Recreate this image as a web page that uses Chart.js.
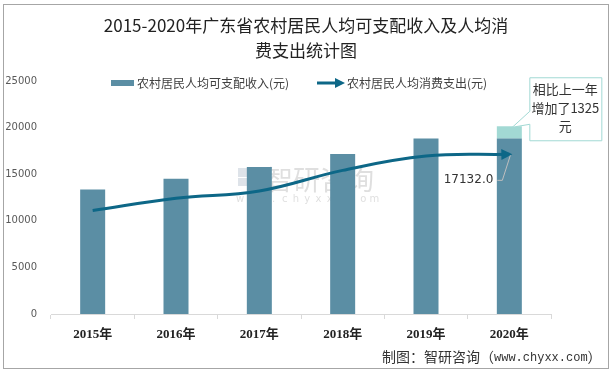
<!DOCTYPE html>
<html>
<head>
<meta charset="utf-8">
<script src="https://cdn.jsdelivr.net/npm/chart.js@4/dist/chart.umd.min.js"></script>
<style>
  html,body{margin:0;padding:0;background:#fff;}
  #wrap{width:613px;height:373px;position:relative;}
</style>
</head>
<body>
<div id="wrap"><canvas id="c" width="613" height="373"></canvas></div>
<script>
const titleLines = ['2015-2020年广东省农村居民人均可支配收入及人均消', '费支出统计图'];
const years = ['2015年', '2016年', '2017年', '2018年', '2019年', '2020年'];
const income = [13360, 14512, 15780, 17168, 18818, 20143];
const incomeIncrease = [null, null, null, null, null, 1325];
const spending = [11103, 12415, 13200, 15411, 16949, 17132];
const yTicks = [0, 5000, 10000, 15000, 20000, 25000];
const incomeLabel = '农村居民人均可支配收入(元)';
const spendingLabel = '农村居民人均消费支出(元)';
const calloutLines = ['相比上一年', '增加了1325', '元'];
const sourceText = ['制图：智研咨询（', 'www.chyxx.com', '）'];

const BAR = '#5b8ea4', BAR_UP = '#a2d9d4', LINE = '#0d6787';
const CJK = '"Noto Sans CJK SC", "Noto Sans", sans-serif';

// the 2020 bar is split: previous-year level + the increase on top
const incomeBase = income.map((v, i) => incomeIncrease[i] ? v - incomeIncrease[i] : v);

function arrowHead(ctx, x, y, ang, len, half){
  ctx.save();
  ctx.translate(x, y); ctx.rotate(ang);
  ctx.beginPath();
  ctx.moveTo(0, 0); ctx.lineTo(-len, -half); ctx.lineTo(-len, half);
  ctx.closePath(); ctx.fill();
  ctx.restore();
}

function watermark(ctx){
  ctx.save();
  ctx.globalAlpha = 0.28;
  ctx.fillStyle = '#8a9cb0';
  ctx.fillRect(238, 168, 14, 9);
  ctx.fillRect(238, 178, 9, 8);
  ctx.fillStyle = '#5aa0d8';
  ctx.fillRect(249, 178, 10, 8);
  ctx.fillStyle = '#8c8c8c';
  ctx.font = '27px ' + CJK;
  ctx.textAlign = 'left'; ctx.textBaseline = 'middle';
  ctx.fillText('智研咨询', 266, 180);
  ctx.font = '10px "DejaVu Sans", sans-serif';
  ctx.textAlign = 'center';
  'www.chyxx.com'.split('').forEach((ch, i) => ctx.fillText(ch, 240 + i * 11.2, 199));
  ctx.restore();
}

const extras = {
  id: 'extras',
  beforeDraw(chart){
    const ctx = chart.ctx;
    ctx.save();
    ctx.fillStyle = '#fff';
    ctx.fillRect(0, 0, chart.width, chart.height);
    ctx.strokeStyle = '#a6a6a6'; ctx.lineWidth = 1;
    ctx.strokeRect(3.5, 4.5, 605, 364);
    // title
    ctx.fillStyle = '#222';
    ctx.font = '17px ' + CJK;
    ctx.textAlign = 'center'; ctx.textBaseline = 'middle';
    ctx.fillText(titleLines[0], 306, 26);
    ctx.fillText(titleLines[1], 306, 51);
    // legend
    ctx.font = '12px ' + CJK;
    ctx.textAlign = 'left';
    ctx.fillStyle = BAR;
    ctx.fillRect(111, 80, 23, 6);
    ctx.fillStyle = '#404040';
    ctx.fillText(incomeLabel, 137, 83);
    ctx.strokeStyle = LINE; ctx.lineWidth = 3;
    ctx.beginPath(); ctx.moveTo(317, 83); ctx.lineTo(337, 83); ctx.stroke();
    ctx.fillStyle = LINE;
    arrowHead(ctx, 345, 83, 0, 10, 5);
    ctx.fillStyle = '#404040';
    ctx.fillText(spendingLabel, 347, 83);
    // source
    ctx.fillStyle = '#333';
    ctx.font = '14px ' + CJK;
    let x = 382;
    ctx.fillText(sourceText[0], x, 357); x += ctx.measureText(sourceText[0]).width;
    ctx.font = '12px "Liberation Mono", monospace';
    ctx.fillText(sourceText[1], x, 358); x += ctx.measureText(sourceText[1]).width;
    ctx.font = '14px ' + CJK;
    ctx.fillText(sourceText[2], x, 357);
    ctx.restore();
  },
  afterDatasetDraw(chart, args){
    // watermark sits above the bars but under the line
    if (args.index === 1) watermark(chart.ctx);
  },
  afterDatasetsDraw(chart){
    const ctx = chart.ctx;
    // arrow at the end of the spending line
    const lineMeta = chart.getDatasetMeta(2);
    const pts = lineMeta.data;
    const last = pts[pts.length - 1];
    const fromX = last.cp1x !== undefined ? last.cp1x : pts[pts.length - 2].x;
    const fromY = last.cp1y !== undefined ? last.cp1y : pts[pts.length - 2].y;
    const ang = Math.atan2(last.y - fromY, last.x - fromX);
    ctx.save();
    ctx.fillStyle = LINE;
    arrowHead(ctx, last.x + 3, last.y, ang, 11, 5.5);
    // value label with leader line
    ctx.strokeStyle = '#bfbfbf'; ctx.lineWidth = 1;
    ctx.beginPath();
    ctx.moveTo(last.x - 12, last.y + 26);
    ctx.lineTo(last.x - 7, last.y + 26);
    ctx.lineTo(last.x + 1, last.y + 1);
    ctx.stroke();
    ctx.fillStyle = '#333';
    ctx.font = '12px "DejaVu Sans", sans-serif';
    ctx.textAlign = 'right'; ctx.textBaseline = 'middle';
    ctx.fillText(spending[spending.length - 1].toFixed(1), last.x - 16, last.y + 26);
    // callout for the increase
    const upMeta = chart.getDatasetMeta(1);
    const bar = upMeta.data[upMeta.data.length - 1];
    const bx = bar.x, by = bar.y;
    const L = bx + 20, R = bx + 92, T = by - 49, B = by + 14;
    ctx.fillStyle = '#fff';
    ctx.strokeStyle = '#a2d9d4';
    ctx.beginPath();
    ctx.moveTo(L + 0.5, T + 0.5);
    ctx.lineTo(R + 0.5, T + 0.5);
    ctx.lineTo(R + 0.5, B + 0.5);
    ctx.lineTo(L + 0.5, B + 0.5);
    ctx.lineTo(L + 0.5, by - 2);
    ctx.lineTo(bx + 3, by + 1);
    ctx.lineTo(L + 0.5, by - 15);
    ctx.closePath();
    ctx.fill(); ctx.stroke();
    ctx.fillStyle = '#333';
    ctx.font = '13px ' + CJK;
    ctx.textAlign = 'center';
    calloutLines.forEach((t, i) => ctx.fillText(t, (L + R) / 2, T + 12 + i * 18.5));
    ctx.restore();
  }
};

new Chart(document.getElementById('c'), {
  type: 'bar',
  data: {
    labels: years,
    datasets: [
      { label: incomeLabel, data: incomeBase, backgroundColor: BAR, stack: 'income', order: 2,
        categoryPercentage: 1, barPercentage: 0.3 },
      { label: incomeLabel, data: incomeIncrease, backgroundColor: BAR_UP, stack: 'income', order: 2,
        categoryPercentage: 1, barPercentage: 0.3 },
      { type: 'line', label: spendingLabel, data: spending, borderColor: LINE, borderWidth: 3,
        pointRadius: 0, tension: 0.4, fill: false, order: 0 }
    ]
  },
  options: {
    responsive: false,
    animation: false,
    layout: { padding: { top: 81, right: 62, bottom: 0, left: 0 } },
    plugins: { legend: { display: false }, title: { display: false }, tooltip: { enabled: false } },
    scales: {
      x: {
        stacked: true,
        grid: { display: true, drawOnChartArea: false, drawTicks: true, tickLength: 5, color: '#d9d9d9', offset: true },
        border: { display: true, color: '#d9d9d9' },
        ticks: { color: '#222', padding: 8, font: { family: '"Liberation Serif", "Noto Sans CJK SC", serif', size: 13, weight: 'bold' } },
        afterFit: s => { s.height = 59; }
      },
      y: {
        stacked: true,
        min: yTicks[0], max: yTicks[yTicks.length - 1],
        afterBuildTicks: s => { s.ticks = yTicks.map(v => ({ value: v })); },
        grid: { display: false, drawTicks: false },
        border: { display: false },
        ticks: { color: '#595959', padding: 14, font: { family: '"DejaVu Sans", sans-serif', size: 10 },
          callback: v => String(v) },
        afterFit: s => { s.width = 51; }
      }
    }
  },
  plugins: [extras]
});
</script>
</body>
</html>
